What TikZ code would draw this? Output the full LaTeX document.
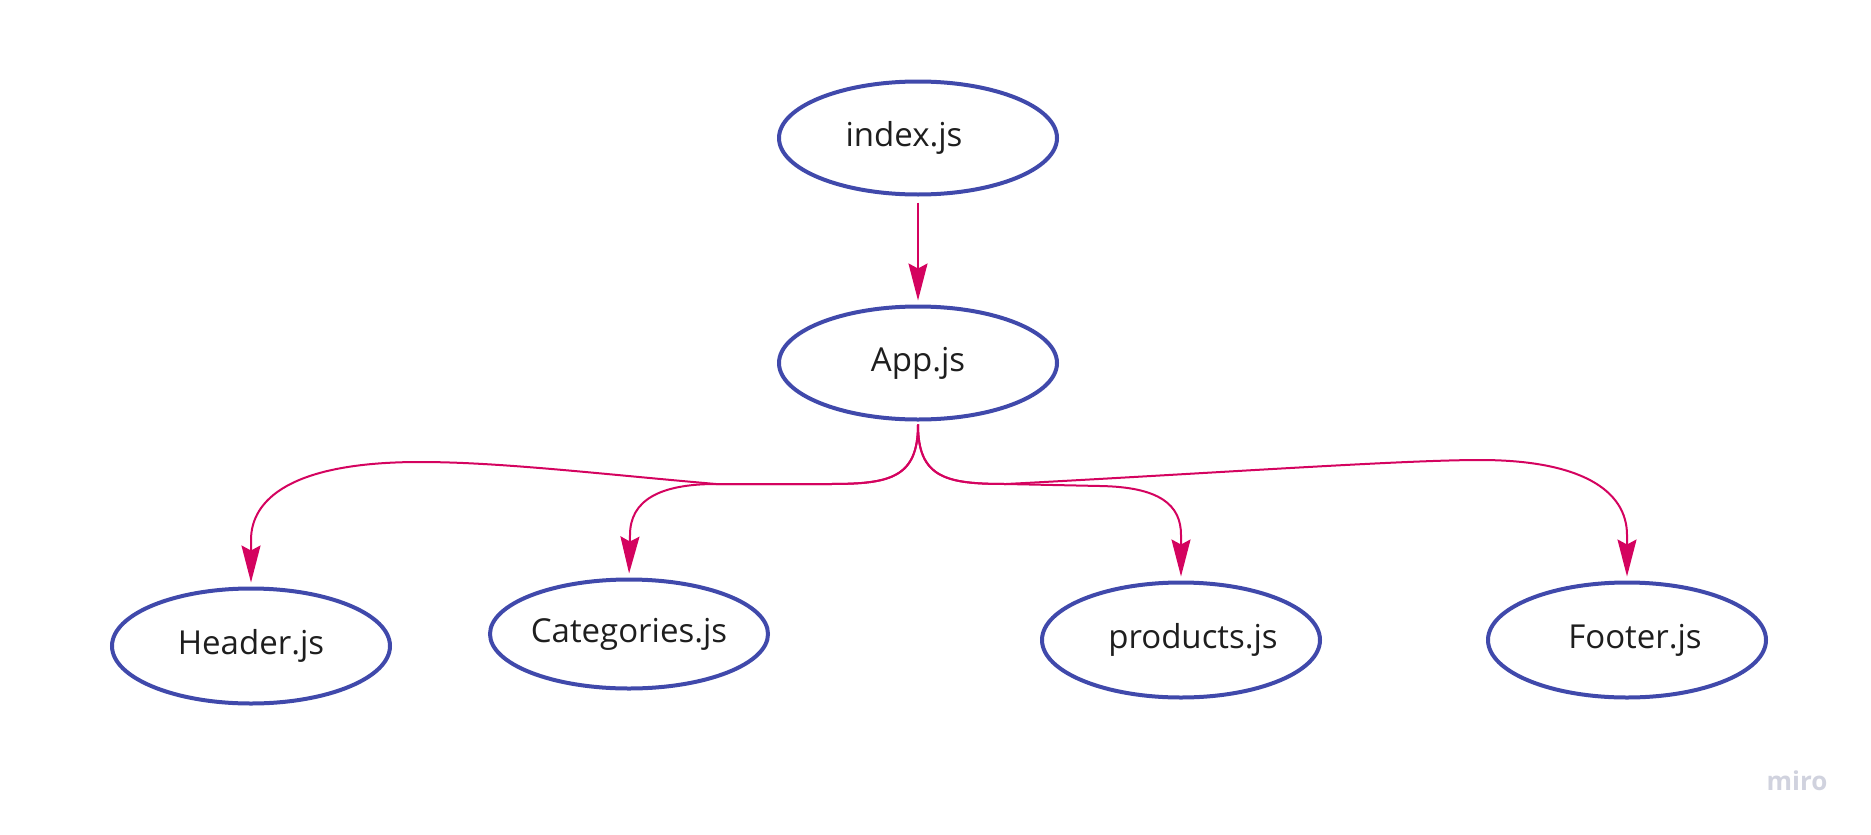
\documentclass[tikz,border=0pt]{standalone}
\usepackage{fontspec}
\setmainfont{Open Sans}
\usetikzlibrary{shapes.geometric,arrows.meta}
\definecolor{ellblue}{HTML}{4049AB}
\definecolor{linkred}{HTML}{D4035F}
\definecolor{txt}{HTML}{1E1E1E}
\definecolor{logo}{HTML}{D0D2DE}
\tikzset{
  filebox/.style={ellipse, draw=ellblue, line width=4pt, minimum width=278pt, minimum height=113pt, inner sep=0pt, text=txt, font=\fontsize{33}{40}\selectfont},
  link/.style={draw=linkred, line width=2pt, -{Stealth[length=37pt,width=19pt,inset=5pt]}, shorten >=4pt},
}
\begin{document}
\begin{tikzpicture}[x=1pt,y=-1pt]
\useasboundingbox (0,0) rectangle (1871,835);
\node[filebox] (index) at (918,138) {\hspace*{-28pt}index.js};
\node[filebox] (app) at (918,363) {App.js};
\node[filebox, minimum height=115pt] (header) at (251,646) {Header.js};
\node[filebox, minimum height=109pt] (cat) at (629,634) {Categories.js};
\node[filebox, minimum height=115pt] (prod) at (1181,640) {\hspace*{24pt}products.js};
\node[filebox, minimum height=115pt] (foot) at (1627,640) {\hspace*{16pt}Footer.js};
\node[text=logo, font=\bfseries\fontsize{26}{30}\selectfont] (miro) at (1797,781) {miro};

\draw[link, shorten <=6pt] (index.south) -- (app.north);
\draw[link, shorten <=3pt] (app.south) .. controls (918,478) and (890,484) .. (830,484) -- (716,484)
  .. controls (600,474) and (500,462) .. (420,462) .. controls (290,462) and (251,500) .. (251,540) -- (header.north);
\draw[link, shorten <=3pt] (app.south) .. controls (918,478) and (890,484) .. (830,484) -- (716,484)
  .. controls (660,484) and (630,500) .. (630,535) -- (cat.north);
\draw[link, shorten <=3pt] (app.south) .. controls (918,478) and (946,484) .. (1006,484) -- (1100,486)
  .. controls (1160,487) and (1181,505) .. (1181,535) -- (prod.north);
\draw[link, shorten <=3pt] (app.south) .. controls (918,478) and (946,484) .. (1006,484)
  .. controls (1200,474) and (1400,460) .. (1480,460) .. controls (1580,460) and (1627,490) .. (1627,535) -- (foot.north);
\end{tikzpicture}
\end{document}
